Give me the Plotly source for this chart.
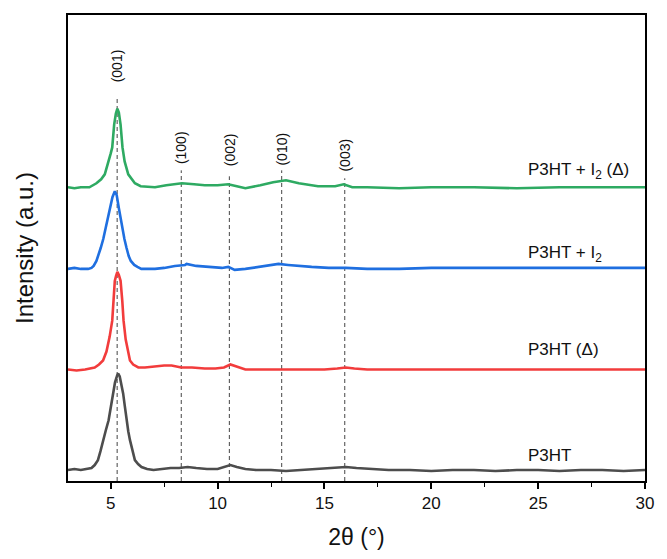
import plotly.graph_objects as go

# ---------------- data ----------------
x_p3ht = [3.0, 3.3, 3.6, 3.9, 4.1, 4.25, 4.4, 4.52, 4.64, 4.77, 4.9, 5.0, 5.1, 5.2, 5.3, 5.35,
          5.42, 5.5, 5.58, 5.66, 5.74, 5.82, 5.9, 6.0, 6.13, 6.28, 6.44, 6.7, 7.0, 7.4, 7.8, 8.2,
          8.6, 9.0, 9.5, 10.0, 10.3, 10.6, 10.9, 11.3, 11.8, 12.5, 13.2, 14.0, 14.8, 15.5, 16.0,
          16.5, 17.2, 18.0, 19.0, 20.0, 21.0, 22.0, 23.0, 24.0, 25.0, 26.0, 27.0, 28.0, 29.0, 30.0]
y_p3ht = [11, 12, 11, 12, 13, 16, 21, 30, 41, 51, 61, 74, 88, 99, 106, 108,
          105, 97, 88, 75, 61, 50, 41, 31, 21, 17, 14, 12, 11, 12, 13, 13,
          14, 13, 12, 12, 14, 16, 14, 12, 11, 11, 10, 11, 12, 13, 14,
          13, 12, 11, 11, 10, 11, 11, 10, 11, 11, 10, 11, 11, 10, 11]

x_p3ht_a = [3.0, 3.4, 3.8, 4.1, 4.25, 4.45, 4.64, 4.8, 4.95, 5.07, 5.13, 5.19, 5.25, 5.31, 5.38,
            5.46, 5.54, 5.6, 5.7, 5.8, 5.9, 6.05, 6.29, 6.6, 7.0, 7.5, 7.85, 8.3, 8.8, 9.4, 9.9,
            10.3, 10.6, 10.9, 11.3, 12.0, 13.0, 14.0, 15.0, 15.6, 16.0, 16.4, 17.0, 18.0, 19.0,
            20.0, 21.0, 22.0, 23.0, 24.0, 25.0, 26.0, 27.0, 28.0, 29.0, 30.0]
y_p3ht_a = [12, 11, 12, 13, 14, 17, 21, 30, 45, 61, 81, 101, 106, 110, 107,
            101, 81, 61, 42, 30, 21, 17, 14, 14, 15, 16, 16, 14, 14, 13, 13,
            14, 17, 15, 12, 12, 12, 12, 12, 13, 14, 13, 12, 12, 12,
            12, 12, 12, 12, 12, 12, 12, 12, 12, 12, 12]

x_p3ht_i2 = [3.0, 3.3, 3.6, 3.94, 4.1, 4.2, 4.33, 4.43, 4.53, 4.65, 4.75, 4.86, 4.97, 5.08, 5.19,
             5.28, 5.38, 5.46, 5.55, 5.64, 5.74, 5.84, 5.94, 6.1, 6.25, 6.43, 6.7, 7.07, 7.5, 8.0,
             8.48, 8.55, 9.0, 9.5, 10.2, 10.5, 10.8, 11.3, 12.0, 12.5, 12.85, 13.3, 13.8, 14.4,
             15.2, 16.0, 17.0, 18.5, 20.0, 22.0, 24.0, 26.0, 28.0, 30.0]
y_p3ht_i2 = [11, 12, 11, 11, 12, 14, 19, 25, 32, 41, 51, 62, 72, 83, 89,
             85, 72, 61, 51, 41, 32, 24, 19, 15, 13, 11, 11, 11, 12, 14,
             15, 16, 14, 13, 12, 13, 10, 11, 13, 15, 16, 15, 14, 13,
             12, 12, 11, 11, 12, 12, 12, 12, 12, 12]

x_p3ht_i2_a = [3.0, 3.3, 3.6, 4.0, 4.33, 4.55, 4.72, 4.88, 5.0, 5.07, 5.16, 5.24, 5.31, 5.38,
               5.46, 5.55, 5.65, 5.82, 6.0, 6.13, 6.4, 6.8, 7.07, 7.6, 8.33, 8.9, 9.4, 10.0, 10.5,
               10.9, 11.3, 12.0, 12.6, 13.2, 13.8, 14.7, 15.5, 15.9, 16.3, 17.0, 18.5, 20.0,
               22.0, 24.0, 26.0, 28.0, 30.0]
y_p3ht_i2_a = [11, 10, 11, 11, 15, 19, 24, 35, 45, 51, 74, 85, 90, 86,
               74, 51, 37, 24, 18, 15, 12, 11, 11, 13, 15, 14, 13, 13, 14,
               12, 10, 13, 16, 18, 15, 12, 12, 14, 11, 11, 10, 11,
               11, 10, 11, 11, 11]

series_names = ["P3HT", "P3HT (Δ)", "P3HT + I<sub>2</sub>", "P3HT + I<sub>2</sub> (Δ)"]
series_x = [x_p3ht, x_p3ht_a, x_p3ht_i2, x_p3ht_i2_a]
series_y = [y_p3ht, y_p3ht_a, y_p3ht_i2, y_p3ht_i2_a]
offsets = [0, 100, 202, 284]
label_heights = [26, 132, 228, 311]

peak_labels = ["(001)", "(100)", "(002)", "(010)", "(003)"]
peak_pos = [5.3, 8.3, 10.55, 13.0, 15.95]
peak_line_top = [384, 312, 306, 312, 304]
peak_label_bottom = [398, 316, 314, 315, 309]

x_ticks = [5, 10, 15, 20, 25, 30]

# ---------------- styling ----------------
colors = ["#4d4d4d", "#f23c3c", "#1f6fe0", "#2eaa62"]
label_x = 24.45
FONT = "Arial, 'Liberation Sans', sans-serif"

fig = go.Figure()
for name, xs, ys, off, col, ly in zip(series_names, series_x, series_y, offsets, colors,
                                      label_heights):
    fig.add_trace(go.Scatter(
        x=xs, y=[v + off for v in ys], mode="lines", name=name,
        line=dict(color=col, width=2.6),
        showlegend=False, hoverinfo="skip"))
    fig.add_annotation(x=label_x, y=ly, text=name, showarrow=False,
                       xanchor="left", yanchor="middle",
                       font=dict(size=17, color="#111111", family=FONT))

for lab, px, top, lb in zip(peak_labels, peak_pos, peak_line_top, peak_label_bottom):
    fig.add_shape(type="line", x0=px, x1=px, y0=0, y1=top, xref="x", yref="y",
                  line=dict(color="#444444", width=1, dash="4px,3px"), layer="below")
    fig.add_annotation(x=px, y=lb, text=lab, textangle=-90, showarrow=False,
                       xanchor="center", yanchor="bottom",
                       font=dict(size=14, color="#111111", family=FONT))

# the page body adds an 8px margin, so the figure is sized to fit the 667x559 window
fig.update_layout(
    width=659, height=551,
    margin=dict(l=60, r=22, t=5, b=78),
    paper_bgcolor="white", plot_bgcolor="white",
    font=dict(family=FONT, color="#111111"),
)
fig.update_xaxes(
    range=[3, 30], tickvals=x_ticks, ticks="outside", ticklen=6, tickwidth=1.5,
    tickcolor="black", showline=True, linecolor="black", linewidth=1.8, mirror=True,
    showgrid=False, zeroline=False, tickfont=dict(size=17, family=FONT),
    minor=dict(dtick=2.5, tick0=2.5, ticks="outside", ticklen=4, tickwidth=1.2, tickcolor="black"),
    title=dict(text="2θ (°)", font=dict(size=23, family=FONT), standoff=17),
)
fig.update_yaxes(
    range=[0, 468], showticklabels=False, ticks="", showline=True, linecolor="black",
    linewidth=1.8, mirror=True, showgrid=False, zeroline=False,
    title=dict(text="Intensity (a.u.)", font=dict(size=24, family=FONT), standoff=26),
)

fig.write_html("out.html")
